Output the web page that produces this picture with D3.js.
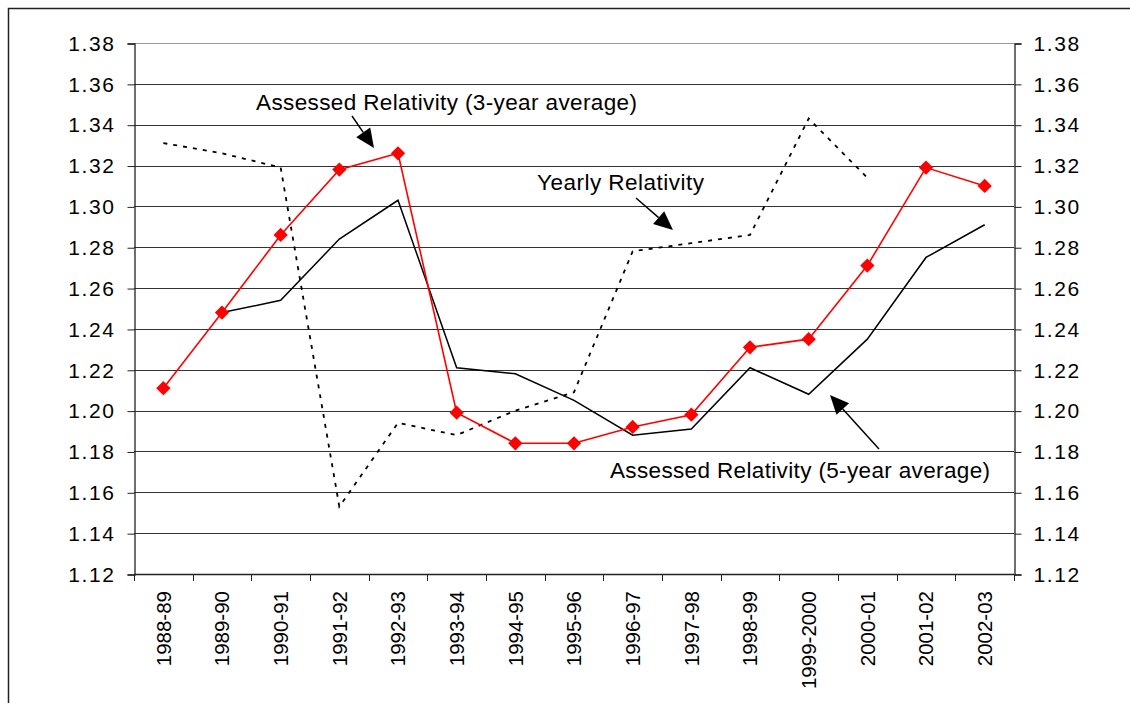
<!DOCTYPE html>
<html>
<head>
<meta charset="utf-8">
<script src="https://cdn.jsdelivr.net/npm/d3@7"></script>
<style>
  body { margin: 0; background: #fff; }
  text { font-family: "Liberation Sans", Arial, sans-serif; fill: #000; }
</style>
</head>
<body>
<div id="root"></div>
<script>
const width = 1130;
const height = 703;

const categories = ['1988-89', '1989-90', '1990-91', '1991-92', '1992-93', '1993-94', '1994-95',
  '1995-96', '1996-97', '1997-98', '1998-99', '1999-2000', '2000-01', '2001-02', '2002-03'];
const yearly = [1.331, 1.326, 1.319, 1.153, 1.194, 1.188, 1.200, 1.209, 1.278, 1.282, 1.286, 1.343, 1.314, null, null];
const threeYear = [1.211, 1.248, 1.286, 1.318, 1.326, 1.199, 1.184, 1.184, 1.192, 1.198, 1.231, 1.235, 1.271, 1.319, 1.310];
const fiveYear = [null, 1.248, 1.254, 1.284, 1.303, 1.221, 1.218, 1.205, 1.188, 1.191, 1.221, 1.208, 1.235, 1.275, 1.291];
const yTicks = [1.12, 1.14, 1.16, 1.18, 1.20, 1.22, 1.24, 1.26, 1.28, 1.30, 1.32, 1.34, 1.36, 1.38];

const plot = {left: 134, right: 1014, top: 43, bottom: 574};

const svg = d3.select('#root')
  .append('svg')
  .attr('width', width).attr('height', height);

// outer frame (runs off the bottom/right of the picture)
svg.append('rect')
  .attr('x', 8.5).attr('y', 8.5)
  .attr('width', 1140).attr('height', 720)
  .attr('fill', 'none').attr('stroke', '#222').attr('stroke-width', 1.5);

const xScale = d3.scaleBand()
  .domain(categories)
  .range([plot.left, plot.right]);
const cx = d => xScale(d) + xScale.bandwidth() / 2;

const yScale = d3.scaleLinear()
  .domain([1.12, 1.38])
  .range([plot.bottom, plot.top]);

// gridlines
svg.append('g').selectAll('line')
  .data(yTicks).enter()
  .append('line')
  .attr('x1', plot.left).attr('x2', plot.right)
  .attr('y1', d => Math.round(yScale(d)) + 0.5)
  .attr('y2', d => Math.round(yScale(d)) + 0.5)
  .attr('stroke', d => d === 1.38 ? '#999' : '#333')
  .attr('stroke-width', 1);

// y axes on both sides
const fmt = d3.format('.2f');
const yLeft = d3.axisLeft(yScale).tickValues(yTicks).tickFormat(fmt).tickSize(7).tickPadding(12);
const yRight = d3.axisRight(yScale).tickValues(yTicks).tickFormat(fmt).tickSize(7).tickPadding(12);

[[yLeft, plot.left], [yRight, plot.right]].forEach(([ax, x]) => {
  const g = svg.append('g')
    .attr('transform', `translate(${x + 0.5}, 0.5)`)
    .call(ax);
  g.select('.domain').attr('stroke', '#222').attr('stroke-width', 1.3);
  g.selectAll('.tick line').attr('stroke', '#222');
  g.selectAll('.tick text')
    .attr('font-size', 21)
    .attr('letter-spacing', 1.6)
    .attr('font-family', '"Liberation Sans", Arial, sans-serif')
    .attr('fill', '#000');
});

// x axis
svg.append('line')
  .attr('x1', plot.left).attr('x2', plot.right)
  .attr('y1', plot.bottom + 0.5).attr('y2', plot.bottom + 0.5)
  .attr('stroke', '#222').attr('stroke-width', 1.3);

const bounds = categories.map(d => xScale(d)).concat([plot.right]);
svg.append('g').selectAll('line')
  .data(bounds).enter()
  .append('line')
  .attr('x1', d => Math.round(d) + 0.5).attr('x2', d => Math.round(d) + 0.5)
  .attr('y1', plot.bottom).attr('y2', plot.bottom + 7)
  .attr('stroke', '#222');

svg.append('g').selectAll('text')
  .data(categories).enter()
  .append('text')
  .attr('transform', d => `translate(${cx(d)}, ${plot.bottom + 17}) rotate(-90)`)
  .attr('text-anchor', 'end')
  .attr('dy', '0.35em')
  .attr('font-size', 20.5)
  .text(d => d);

// series
const line = d3.line()
  .defined(d => d.v != null)
  .x(d => cx(d.c))
  .y(d => yScale(d.v));
const pts = arr => arr.map((v, i) => ({c: categories[i], v: v}));

svg.append('path')
  .datum(pts(yearly))
  .attr('d', line)
  .attr('fill', 'none')
  .attr('stroke', '#000')
  .attr('stroke-width', 1.8)
  .attr('stroke-dasharray', '4,6');

svg.append('path')
  .datum(pts(fiveYear))
  .attr('d', line)
  .attr('fill', 'none')
  .attr('stroke', '#000')
  .attr('stroke-width', 1.5);

svg.append('path')
  .datum(pts(threeYear))
  .attr('d', line)
  .attr('fill', 'none')
  .attr('stroke', '#ff0000')
  .attr('stroke-width', 1.6);

svg.append('g').selectAll('path')
  .data(pts(threeYear)).enter()
  .append('path')
  .attr('d', d3.symbol().type(d3.symbolDiamond2).size(130))
  .attr('transform', d => `translate(${cx(d.c)}, ${yScale(d.v)})`)
  .attr('fill', '#ff0000');

// annotations with arrows
const notes = [
  {text: 'Assessed Relativity (3-year average)', x: 256, y: 110, len: 381, from: [352, 116], to: [374, 148]},
  {text: 'Yearly Relativity', x: 537, y: 190, len: 167, from: [636, 198], to: [673, 230]},
  {text: 'Assessed Relativity (5-year average)', x: 610, y: 478, len: 380, from: [879, 449], to: [830, 395]}
];

notes.forEach(n => {
  svg.append('text')
    .attr('x', n.x).attr('y', n.y)
    .attr('font-size', 22.5)
    .attr('textLength', n.len)
    .attr('lengthAdjust', 'spacing')
    .text(n.text);

  const dx = n.to[0] - n.from[0], dy = n.to[1] - n.from[1];
  const L = Math.hypot(dx, dy), ux = dx / L, uy = dy / L;
  const head = 19, half = 8.5;
  const bx = n.to[0] - ux * head, by = n.to[1] - uy * head;
  svg.append('line')
    .attr('x1', n.from[0]).attr('y1', n.from[1])
    .attr('x2', bx).attr('y2', by)
    .attr('stroke', '#000').attr('stroke-width', 1.5);
  svg.append('polygon')
    .attr('points', [
      n.to,
      [bx - uy * half, by + ux * half],
      [bx + uy * half, by - ux * half]
    ].map(p => p.join(',')).join(' '))
    .attr('fill', '#000');
});
</script>
</body>
</html>
